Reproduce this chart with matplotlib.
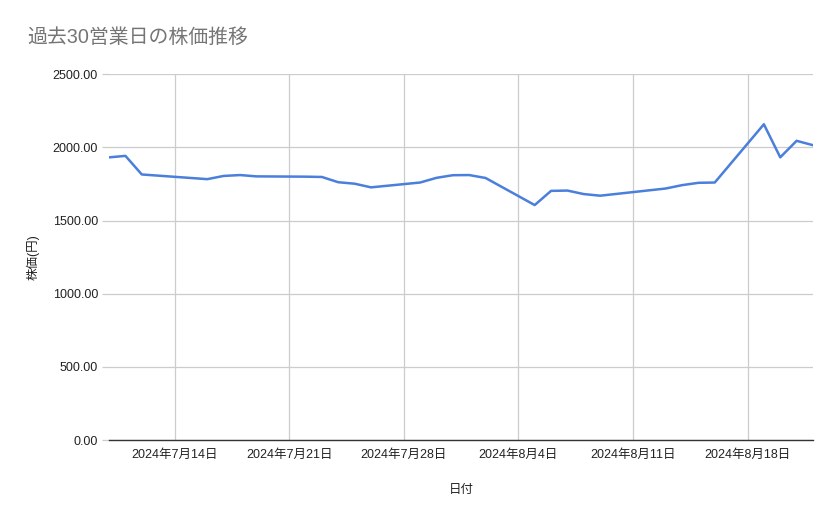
import datetime as dt
import matplotlib
matplotlib.use("Agg")
import matplotlib.pyplot as plt

plt.rcParams['font.family'] = ['Liberation Sans', 'Noto Sans CJK JP', 'DejaVu Sans']

# trading days and closing prices (yen)
dates = ["2024-07-10", "2024-07-11", "2024-07-12", "2024-07-16", "2024-07-17",
         "2024-07-18", "2024-07-19", "2024-07-22", "2024-07-23", "2024-07-24",
         "2024-07-25", "2024-07-26", "2024-07-29", "2024-07-30", "2024-07-31",
         "2024-08-01", "2024-08-02", "2024-08-05", "2024-08-06", "2024-08-07",
         "2024-08-08", "2024-08-09", "2024-08-13", "2024-08-14", "2024-08-15",
         "2024-08-16", "2024-08-19", "2024-08-20", "2024-08-21", "2024-08-22"]
prices = [1932, 1942, 1815, 1783, 1805, 1811, 1802, 1800, 1798, 1762,
          1752, 1727, 1760, 1792, 1810, 1811, 1791, 1606, 1703, 1705,
          1681, 1670, 1719, 1742, 1758, 1760, 2158, 1932, 2045, 2015]

tick_dates = ["2024-07-14", "2024-07-21", "2024-07-28", "2024-08-04",
              "2024-08-11", "2024-08-18"]
tick_labels = ["2024年7月14日", "2024年7月21日", "2024年7月28日",
               "2024年8月4日", "2024年8月11日", "2024年8月18日"]
y_ticks = [0, 500, 1000, 1500, 2000, 2500]

title = "過去30営業日の株価推移"
xlabel = "日付"
ylabel = "株価(円)"


def to_date(s):
    return dt.datetime.strptime(s, "%Y-%m-%d")


x = [to_date(d) for d in dates]

fig = plt.figure(figsize=(8.39, 5.19), dpi=100)
ax = fig.add_axes([0.130, 0.152, 0.839, 0.705])

ax.plot(x, prices, color="#4a7fdc", linewidth=1.8, solid_joinstyle="round")

ax.set_xlim(x[0], x[-1])
ax.set_ylim(0, 2500)

ax.set_xticks([to_date(d) for d in tick_dates])
ax.set_xticklabels(tick_labels)
ax.set_yticks(y_ticks)
ax.set_yticklabels(["%.2f" % v for v in y_ticks])

ax.grid(True, color="#cccccc", linewidth=0.9)
ax.set_axisbelow(True)
for side in ["top", "right", "left"]:
    ax.spines[side].set_visible(False)
ax.spines["bottom"].set_color("#333333")
ax.spines["bottom"].set_linewidth(1.0)

ax.tick_params(axis="x", length=0, pad=6, labelsize=9, labelcolor="#222222")
ax.tick_params(axis="y", length=5, width=0.9, color="#cccccc", pad=3,
               labelsize=9, labelcolor="#222222")

ax.set_xlabel(xlabel, fontsize=9, color="#222222", labelpad=17)
ax.set_ylabel(ylabel, fontsize=9, color="#222222", labelpad=9)

fig.text(0.032, 0.927, title, fontsize=14.3, color="#757575", va="center")

fig.savefig("out.png", dpi=100)
